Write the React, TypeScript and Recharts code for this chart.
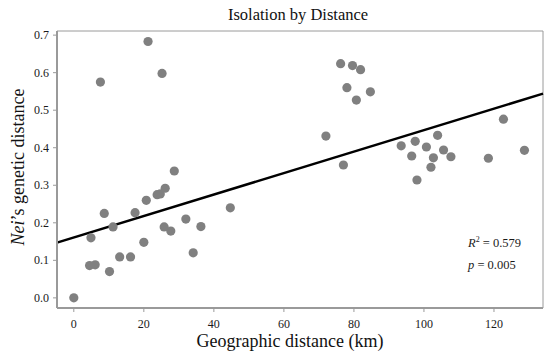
import {
  ComposedChart,
  ReferenceArea,
  ReferenceLine,
  Scatter,
  XAxis,
  YAxis,
} from 'recharts';

const DISTANCE_KM = [
  0, 4.5, 4.9, 6.1, 7.6, 8.7, 10.2, 11.2, 13.1, 16.2, 17.5, 20, 20.7, 21.2, 23.8, 24.7, 25.2, 25.8, 26.1, 27.7,
  28.7, 32, 34.1, 36.3, 44.7, 72, 76.2, 77, 78, 79.6, 80.7, 81.9, 84.7, 93.5, 96.5, 97.5, 98, 100.7, 102, 102.7,
  103.9, 105.6, 107.7, 118.4, 122.7, 128.7,
];
const NEI_DISTANCE = [
  0, 0.086, 0.16, 0.088, 0.575, 0.225, 0.07, 0.189, 0.109, 0.109, 0.227, 0.148, 0.26, 0.683, 0.275, 0.277, 0.598,
  0.189, 0.292, 0.178, 0.338, 0.21, 0.12, 0.19, 0.24, 0.431, 0.624, 0.354, 0.56, 0.619, 0.527, 0.608, 0.549, 0.405,
  0.378, 0.417, 0.314, 0.402, 0.348, 0.373, 0.433, 0.394, 0.376, 0.372, 0.476, 0.393,
];
const X_TICKS = [0, 20, 40, 60, 80, 100, 120];
const Y_TICKS = [0, 0.1, 0.2, 0.3, 0.4, 0.5, 0.6, 0.7];
const X_DOMAIN: [number, number] = [-4.8, 134];
const Y_DOMAIN: [number, number] = [-0.027, 0.711];
const REG_INTERCEPT = 0.161;
const REG_SLOPE = 0.00286;

const points = DISTANCE_KM.map((x, i) => ({ x, y: NEI_DISTANCE[i] }));
const FONT = '"Liberation Serif", "Times New Roman", serif';
const AXIS_GRAY = '#9a9a9a';

const Dot = (props: any) => <circle cx={props.cx} cy={props.cy} r={4.6} fill="#808080" />;

const XTick = (props: any) => (
  <text x={props.x} y={props.y + 14} textAnchor="middle" fontFamily={FONT} fontSize={12} fill="#1a1a1a">
    {props.payload.value}
  </text>
);

const YTick = (props: any) => (
  <text x={props.x - 2} y={props.y + 4} textAnchor="end" fontFamily={FONT} fontSize={12} fill="#1a1a1a">
    {Number(props.payload.value).toFixed(1)}
  </text>
);

export default function App() {
  return (
    <div
      style={{ position: 'absolute', left: 0, top: 0, width: 550, height: 356, background: '#fff', fontFamily: FONT }}
    >
      <ComposedChart width={550} height={356} margin={{ top: 31, right: 7, bottom: 18, left: 0 }}>
        <XAxis
          type="number"
          dataKey="x"
          domain={X_DOMAIN}
          ticks={X_TICKS}
          allowDataOverflow
          height={30}
          tick={XTick}
          tickSize={4}
          stroke={AXIS_GRAY}
          axisLine={{ stroke: AXIS_GRAY, strokeWidth: 2 }}
        />
        <YAxis
          type="number"
          dataKey="y"
          domain={Y_DOMAIN}
          ticks={Y_TICKS}
          allowDataOverflow
          width={57}
          tick={YTick}
          tickSize={4}
          stroke={AXIS_GRAY}
          axisLine={{ stroke: AXIS_GRAY, strokeWidth: 2 }}
        />
        <ReferenceArea
          x1={X_DOMAIN[0]}
          x2={X_DOMAIN[1]}
          y1={Y_DOMAIN[0]}
          y2={Y_DOMAIN[1]}
          fill="none"
          stroke={AXIS_GRAY}
          strokeWidth={1}
        />
        <ReferenceLine
          segment={[
            { x: X_DOMAIN[0], y: REG_INTERCEPT + REG_SLOPE * X_DOMAIN[0] },
            { x: X_DOMAIN[1], y: REG_INTERCEPT + REG_SLOPE * X_DOMAIN[1] },
          ]}
          stroke="#000"
          strokeWidth={2.5}
        />
        <Scatter data={points} shape={Dot} isAnimationActive={false} />
        <text x={298} y={20} textAnchor="middle" fontFamily={FONT} fontSize={16.5} fill="#111">
          Isolation by Distance
        </text>
        <text x={290} y={347} textAnchor="middle" fontFamily={FONT} fontSize={18} fill="#111">
          Geographic distance (km)
        </text>
        <text
          x={24}
          y={167}
          transform="rotate(-90 24 167)"
          textAnchor="middle"
          fontFamily={FONT}
          fontSize={18}
          fill="#111"
        >
          <tspan fontStyle="italic">Nei</tspan>’s genetic distance
        </text>
        <text x={468} y={247} fontFamily={FONT} fontSize={12.5} fill="#1a1a1a">
          <tspan fontStyle="italic">R</tspan>
          <tspan fontSize={8} dy={-5}>2</tspan>
          <tspan dy={5}> = 0.579</tspan>
        </text>
        <text x={468} y={269} fontFamily={FONT} fontSize={12.5} fill="#1a1a1a">
          <tspan fontStyle="italic">p</tspan> = 0.005
        </text>
      </ComposedChart>
    </div>
  );
}
